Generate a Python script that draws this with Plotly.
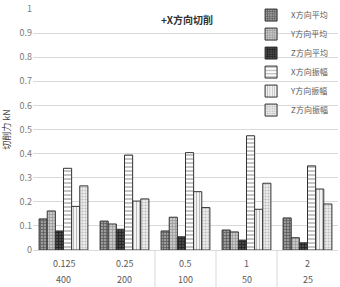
import plotly.graph_objects as go

inner = ["0.125", "0.25", "0.5", "1", "2"]
outer = ["400", "200", "100", "50", "25"]
series_names = ["X方向平均", "Y方向平均", "Z方向平均", "X方向振幅", "Y方向振幅", "Z方向振幅"]
x_avg = [0.129, 0.120, 0.079, 0.083, 0.133]
y_avg = [0.162, 0.108, 0.136, 0.075, 0.051]
z_avg = [0.079, 0.086, 0.055, 0.041, 0.030]
x_amp = [0.339, 0.394, 0.404, 0.474, 0.349]
y_amp = [0.181, 0.203, 0.242, 0.169, 0.253]
z_amp = [0.266, 0.212, 0.176, 0.277, 0.191]
series = [x_avg, y_avg, z_avg, x_amp, y_amp, z_amp]

patterns = [
    dict(shape="+", fgcolor="#222222", bgcolor="#9a9a9a", size=3, solidity=0.45),
    dict(shape="+", fgcolor="#555555", bgcolor="#c8c8c8", size=3, solidity=0.35),
    dict(shape="+", fgcolor="#000000", bgcolor="#4a4a4a", size=3, solidity=0.5),
    dict(shape="-", fgcolor="#8a8a8a", bgcolor="#ffffff", size=4, solidity=0.5),
    dict(shape="|", fgcolor="#7a7a7a", bgcolor="#ffffff", size=3, solidity=0.45),
    dict(shape=".", fgcolor="#8a8a8a", bgcolor="#eeeeee", size=3, solidity=0.4),
]

font_family = "Noto Sans CJK SC, Noto Sans, sans-serif"
fig = go.Figure()
for name, vals, pat in zip(series_names, series, patterns):
    fig.add_trace(go.Bar(
        x=inner, y=vals, name=name,
        marker=dict(color=pat["bgcolor"], pattern=pat,
                    line=dict(color="#333333", width=1)),
    ))

# hide gridlines behind title/legend region (as in reference)
fig.add_shape(type="rect", xref="paper", yref="y", x0=0, x1=1, y0=0.55, y1=0.95,
              fillcolor="white", line=dict(width=0), layer="between")

# two-level category labels and dividers
for i, (a, b) in enumerate(zip(inner, outer)):
    fig.add_annotation(x=i, y=-0.054, xref="x", yref="paper", text=a, showarrow=False,
                       yanchor="middle", font=dict(size=9, color="#595959"))
    fig.add_annotation(x=i, y=-0.124, xref="x", yref="paper", text=b, showarrow=False,
                       yanchor="middle", borderpad=0, font=dict(size=9, color="#595959"))
for i in range(1, len(inner) - 1):
    fig.add_shape(type="line", xref="x", yref="paper", x0=i + 0.5, x1=i + 0.5,
                  y0=0, y1=-0.16, line=dict(color="#d9d9d9", width=1))

fig.update_layout(
    width=340, height=287,
    margin=dict(l=33, r=2, t=9, b=37, autoexpand=False),
    paper_bgcolor="white", plot_bgcolor="white",
    barmode="group", bargap=0.2, bargroupgap=0,
    font=dict(family=font_family, size=9, color="#595959"),
    title=dict(text="<b>+X方向切削</b>", x=0.55, xanchor="center",
               y=0.928, yanchor="middle", yref="container",
               font=dict(size=10, color="#333333")),
    legend=dict(x=0.715, xanchor="left", y=1.035, yanchor="top",
                bgcolor="rgba(0,0,0,0)", font=dict(size=8, color="#595959"),
                tracegroupgap=0),
    yaxis=dict(range=[0, 1], dtick=0.1, showgrid=True, gridcolor="#d9d9d9",
               gridwidth=1, zeroline=False, showline=False, ticks="",
               tickfont=dict(size=9, color="#7a7a7a"),
               title=dict(text="切削力 kN", font=dict(size=9, color="#404040"), standoff=12)),
    xaxis=dict(type="category", range=[-0.5, len(inner) - 0.5], showline=True,
               linecolor="#d9d9d9", showticklabels=False, ticks=""),
)

fig.write_html("out.html")
